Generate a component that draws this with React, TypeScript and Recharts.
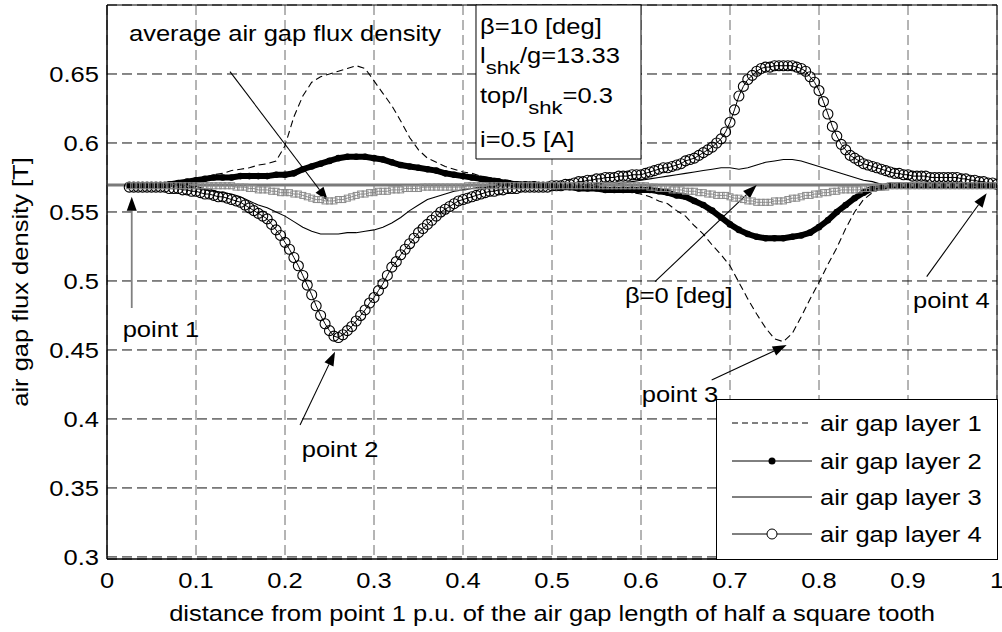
import {
  CartesianGrid,
  Label,
  Legend,
  Line,
  LineChart,
  ReferenceArea,
  ReferenceDot,
  ReferenceLine,
  XAxis,
  YAxis,
} from 'recharts';

const FONT = '"Liberation Sans", Arial, Helvetica, sans-serif';
const STRETCH = 1.16;

const xTicks = [0, 0.1, 0.2, 0.3, 0.4, 0.5, 0.6, 0.7, 0.8, 0.9, 1];
const xTickLabels = ['0', '0.1', '0.2', '0.3', '0.4', '0.5', '0.6', '0.7', '0.8', '0.9', '1'];
const yTicks = [0.3, 0.35, 0.4, 0.45, 0.5, 0.55, 0.6, 0.65];
const yTickLabels = ['0.3', '0.35', '0.4', '0.45', '0.5', '0.55', '0.6', '0.65'];

// layers 1-3, read every 0.01
const xCoarse = [
  0.025,
  0.03, 0.04, 0.05, 0.06, 0.07, 0.08, 0.09, 0.1, 0.11, 0.12,
  0.13, 0.14, 0.15, 0.16, 0.17, 0.18, 0.19, 0.2, 0.21, 0.22,
  0.23, 0.24, 0.25, 0.26, 0.27, 0.28, 0.29, 0.3, 0.31, 0.32,
  0.33, 0.34, 0.35, 0.36, 0.37, 0.38, 0.39, 0.4, 0.41, 0.42,
  0.43, 0.44, 0.45, 0.46, 0.47, 0.48, 0.49, 0.5, 0.51, 0.52,
  0.53, 0.54, 0.55, 0.56, 0.57, 0.58, 0.59, 0.6, 0.61, 0.62,
  0.63, 0.64, 0.65, 0.66, 0.67, 0.68, 0.69, 0.7, 0.71, 0.72,
  0.73, 0.74, 0.75, 0.76, 0.77, 0.78, 0.79, 0.8, 0.81, 0.82,
  0.83, 0.84, 0.85, 0.86, 0.87, 0.88, 0.89, 0.9, 0.91, 0.92,
  0.93, 0.94, 0.95, 0.96, 0.97, 0.98, 0.99, 1,
];

const layer1 = [
  0.569,
  0.569, 0.569, 0.569, 0.569, 0.57, 0.57, 0.571, 0.573, 0.575, 0.577,
  0.578, 0.58, 0.581, 0.582, 0.584, 0.585, 0.587, 0.598, 0.619, 0.634,
  0.644, 0.648, 0.65, 0.652, 0.654, 0.656, 0.654, 0.645, 0.636, 0.627,
  0.616, 0.604, 0.595, 0.589, 0.586, 0.583, 0.581, 0.579, 0.578, 0.576,
  0.575, 0.574, 0.573, 0.572, 0.571, 0.57, 0.57, 0.569, 0.569, 0.569,
  0.568, 0.568, 0.567, 0.567, 0.566, 0.565, 0.564, 0.563, 0.561, 0.558,
  0.556, 0.551, 0.547, 0.54, 0.534, 0.526, 0.519, 0.511, 0.499, 0.487,
  0.476, 0.466, 0.458, 0.456, 0.462, 0.474, 0.487, 0.499, 0.512, 0.524,
  0.538, 0.55, 0.559, 0.564, 0.567, 0.568, 0.569, 0.569, 0.569, 0.569,
  0.569, 0.569, 0.569, 0.569, 0.569, 0.569, 0.569, 0.569,
];

const layer2 = [
  0.569,
  0.569, 0.569, 0.569, 0.569, 0.57, 0.571, 0.572, 0.573, 0.574, 0.575,
  0.575, 0.575, 0.576, 0.576, 0.576, 0.576, 0.577, 0.577, 0.578, 0.581,
  0.583, 0.585, 0.587, 0.589, 0.59, 0.59, 0.59, 0.589, 0.588, 0.586,
  0.584, 0.583, 0.582, 0.581, 0.58, 0.578, 0.577, 0.576, 0.575, 0.574,
  0.573, 0.572, 0.571, 0.57, 0.57, 0.57, 0.569, 0.569, 0.568, 0.568,
  0.567, 0.567, 0.567, 0.566, 0.566, 0.566, 0.566, 0.566, 0.566, 0.565,
  0.564, 0.562, 0.561, 0.558, 0.555, 0.551, 0.546, 0.541, 0.537, 0.534,
  0.532, 0.531, 0.531, 0.531, 0.532, 0.533, 0.535, 0.539, 0.544, 0.55,
  0.555, 0.56, 0.564, 0.567, 0.568, 0.569, 0.569, 0.569, 0.569, 0.569,
  0.569, 0.569, 0.569, 0.569, 0.569, 0.569, 0.569, 0.569,
];

const layer3 = [
  0.569,
  0.569, 0.569, 0.569, 0.569, 0.569, 0.568, 0.568, 0.567, 0.566, 0.565,
  0.564, 0.563, 0.561, 0.558, 0.555, 0.553, 0.55, 0.547, 0.543, 0.539,
  0.536, 0.534, 0.534, 0.534, 0.535, 0.535, 0.536, 0.537, 0.539, 0.542,
  0.546, 0.551, 0.555, 0.559, 0.561, 0.563, 0.565, 0.566, 0.567, 0.568,
  0.568, 0.569, 0.569, 0.569, 0.569, 0.569, 0.569, 0.569, 0.569, 0.569,
  0.569, 0.569, 0.569, 0.57, 0.57, 0.571, 0.572, 0.573, 0.574, 0.575,
  0.576, 0.577, 0.578, 0.579, 0.58, 0.581, 0.582, 0.582, 0.581, 0.582,
  0.584, 0.586, 0.587, 0.588, 0.588, 0.587, 0.585, 0.583, 0.581, 0.579,
  0.577, 0.575, 0.573, 0.572, 0.57, 0.569, 0.569, 0.569, 0.569, 0.569,
  0.569, 0.569, 0.569, 0.569, 0.569, 0.569, 0.569, 0.569,
];

// layer 4 and the average (grey squares), read every 0.005
const xFine = [
  0.025, 0.03, 0.035, 0.04, 0.045, 0.05, 0.055, 0.06, 0.065, 0.07,
  0.075, 0.08, 0.085, 0.09, 0.095, 0.1, 0.105, 0.11, 0.115, 0.12,
  0.125, 0.13, 0.135, 0.14, 0.145, 0.15, 0.155, 0.16, 0.165, 0.17,
  0.175, 0.18, 0.185, 0.19, 0.195, 0.2, 0.205, 0.21, 0.215, 0.22,
  0.225, 0.23, 0.235, 0.24, 0.245, 0.25, 0.255, 0.26, 0.265, 0.27,
  0.275, 0.28, 0.285, 0.29, 0.295, 0.3, 0.305, 0.31, 0.315, 0.32,
  0.325, 0.33, 0.335, 0.34, 0.345, 0.35, 0.355, 0.36, 0.365, 0.37,
  0.375, 0.38, 0.385, 0.39, 0.395, 0.4, 0.405, 0.41, 0.415, 0.42,
  0.425, 0.43, 0.435, 0.44, 0.445, 0.45, 0.455, 0.46, 0.465, 0.47,
  0.475, 0.48, 0.485, 0.49, 0.495, 0.5, 0.505, 0.51, 0.515, 0.52,
  0.525, 0.53, 0.535, 0.54, 0.545, 0.55, 0.555, 0.56, 0.565, 0.57,
  0.575, 0.58, 0.585, 0.59, 0.595, 0.6, 0.605, 0.61, 0.615, 0.62,
  0.625, 0.63, 0.635, 0.64, 0.645, 0.65, 0.655, 0.66, 0.665, 0.67,
  0.675, 0.68, 0.685, 0.69, 0.695, 0.7, 0.705, 0.71, 0.715, 0.72,
  0.725, 0.73, 0.735, 0.74, 0.745, 0.75, 0.755, 0.76, 0.765, 0.77,
  0.775, 0.78, 0.785, 0.79, 0.795, 0.8, 0.805, 0.81, 0.815, 0.82,
  0.825, 0.83, 0.835, 0.84, 0.845, 0.85, 0.855, 0.86, 0.865, 0.87,
  0.875, 0.88, 0.885, 0.89, 0.895, 0.9, 0.905, 0.91, 0.915, 0.92,
  0.925, 0.93, 0.935, 0.94, 0.945, 0.95, 0.955, 0.96, 0.965, 0.97,
  0.975, 0.98, 0.985, 0.99, 0.995, 1,
];

const layer4 = [
  0.568, 0.568, 0.568, 0.568, 0.568, 0.568, 0.568, 0.568, 0.568, 0.567,
  0.567, 0.567, 0.566, 0.566, 0.565, 0.565, 0.564, 0.563, 0.563, 0.562,
  0.561, 0.561, 0.56, 0.559, 0.558, 0.557, 0.555, 0.553, 0.551, 0.549,
  0.547, 0.545, 0.541, 0.537, 0.533, 0.528, 0.523, 0.517, 0.511, 0.504,
  0.497, 0.49, 0.482, 0.475, 0.469, 0.464, 0.46, 0.459, 0.461, 0.464,
  0.467, 0.471, 0.475, 0.479, 0.484, 0.488, 0.493, 0.498, 0.504, 0.51,
  0.514, 0.519, 0.523, 0.527, 0.531, 0.535, 0.538, 0.541, 0.544, 0.547,
  0.55, 0.552, 0.554, 0.556, 0.558, 0.559, 0.56, 0.561, 0.562, 0.563,
  0.564, 0.565, 0.565, 0.566, 0.566, 0.567, 0.567, 0.567, 0.568, 0.568,
  0.568, 0.568, 0.568, 0.568, 0.568, 0.569, 0.569, 0.569, 0.57, 0.57,
  0.571, 0.572, 0.572, 0.573, 0.573, 0.574, 0.574, 0.575, 0.575, 0.575,
  0.576, 0.576, 0.576, 0.577, 0.577, 0.577, 0.578, 0.579, 0.58, 0.581,
  0.582, 0.582, 0.583, 0.584, 0.585, 0.587, 0.588, 0.589, 0.591, 0.593,
  0.595, 0.597, 0.6, 0.603, 0.608, 0.615, 0.624, 0.634, 0.641, 0.646,
  0.649, 0.652, 0.654, 0.655, 0.655, 0.656, 0.656, 0.656, 0.656, 0.656,
  0.655, 0.654, 0.652, 0.648, 0.644, 0.638, 0.63, 0.621, 0.612, 0.605,
  0.599, 0.595, 0.591, 0.589, 0.587, 0.585, 0.584, 0.583, 0.582, 0.581,
  0.58, 0.579, 0.578, 0.578, 0.577, 0.577, 0.576, 0.576, 0.576, 0.576,
  0.575, 0.575, 0.575, 0.575, 0.575, 0.575, 0.575, 0.574, 0.574, 0.573,
  0.573, 0.572, 0.572, 0.571, 0.571, 0.57,
];

const average = [
  0.569, 0.569, 0.569, 0.569, 0.569, 0.569, 0.569, 0.569, 0.569, 0.569,
  0.569, 0.569, 0.569, 0.569, 0.569, 0.569, 0.569, 0.569, 0.569, 0.569,
  0.569, 0.569, 0.569, 0.569, 0.568, 0.568, 0.568, 0.567, 0.567, 0.566,
  0.566, 0.566, 0.565, 0.565, 0.564, 0.564, 0.564, 0.563, 0.563, 0.562,
  0.561, 0.56, 0.559, 0.559, 0.558, 0.558, 0.558, 0.559, 0.559, 0.56,
  0.561, 0.562, 0.563, 0.563, 0.564, 0.564, 0.565, 0.565, 0.565, 0.566,
  0.566, 0.566, 0.567, 0.567, 0.567, 0.567, 0.568, 0.568, 0.568, 0.568,
  0.568, 0.568, 0.568, 0.568, 0.568, 0.568, 0.569, 0.569, 0.569, 0.569,
  0.569, 0.569, 0.569, 0.569, 0.569, 0.569, 0.569, 0.569, 0.569, 0.569,
  0.569, 0.569, 0.569, 0.569, 0.569, 0.569, 0.569, 0.569, 0.569, 0.569,
  0.569, 0.569, 0.569, 0.569, 0.569, 0.569, 0.569, 0.569, 0.569, 0.569,
  0.569, 0.569, 0.569, 0.569, 0.569, 0.569, 0.569, 0.568, 0.568, 0.567,
  0.567, 0.567, 0.566, 0.566, 0.566, 0.565, 0.565, 0.565, 0.564, 0.564,
  0.563, 0.563, 0.562, 0.562, 0.562, 0.561, 0.56, 0.56, 0.559, 0.558,
  0.558, 0.557, 0.557, 0.557, 0.557, 0.558, 0.558, 0.558, 0.559, 0.56,
  0.56, 0.561, 0.562, 0.562, 0.563, 0.563, 0.564, 0.564, 0.565, 0.565,
  0.566, 0.566, 0.566, 0.566, 0.566, 0.567, 0.567, 0.567, 0.568, 0.568,
  0.568, 0.569, 0.569, 0.569, 0.569, 0.569, 0.569, 0.569, 0.569, 0.569,
  0.569, 0.569, 0.569, 0.569, 0.569, 0.569, 0.569, 0.569, 0.569, 0.569,
  0.569, 0.569, 0.569, 0.569, 0.569, 0.569,
];

// beta = 0 reference (thick grey line)
const beta0X = [0, 1];
const beta0 = [0.5695, 0.5695];

const legendNames = ['air gap layer 1', 'air gap layer 2', 'air gap layer 3', 'air gap layer 4'];

const notes = [
  { text: 'average air gap flux density', x: 0.0247, y: 0.6741 },
  { text: 'point 1', x: 0.0176, y: 0.4596 },
  { text: 'point 2', x: 0.2188, y: 0.3726 },
  { text: 'point 3', x: 0.6008, y: 0.4125 },
  { text: 'point 4', x: 0.9056, y: 0.4802 },
  { text: 'β=0 [deg]', x: 0.582, y: 0.484 },
];

const arrows = [
  { x1: 0.1382, y1: 0.6517, x2: 0.2483, y2: 0.558, shaft: '#000' },
  { x1: 0.0278, y1: 0.4804, x2: 0.0278, y2: 0.5611, shaft: '#808080' },
  { x1: 0.2169, y1: 0.3956, x2: 0.2562, y2: 0.4487, shaft: '#000' },
  { x1: 0.6794, y1: 0.4282, x2: 0.7637, y2: 0.4536, shaft: '#000' },
  { x1: 0.921, y1: 0.5031, x2: 0.9884, y2: 0.5635, shaft: '#000' },
  { x1: 0.6157, y1: 0.4995, x2: 0.73, y2: 0.5695, shaft: '#000' },
];

// text box, each line: [text, isSubscript]
const boxX = 0.4191;
const boxLines: { y: number; parts: [string, boolean][] }[] = [
  { y: 0.6788, parts: [['β=10 [deg]', false]] },
  { y: 0.6577, parts: [['l', false], ['shk', true], ['/g=13.33', false]] },
  { y: 0.6288, parts: [['top/l', false], ['shk', true], ['=0.3', false]] },
  { y: 0.5973, parts: [['i=0.5 [A]', false]] },
];

const toRows = (xs: number[], ys: number[]) =>
  xs.map((x, i) => ({ x, y: ys[i] })).filter((r) => r.y !== undefined);

const rows1 = toRows(xCoarse, layer1);
const rows2 = toRows(xCoarse, layer2);
const rows3 = toRows(xCoarse, layer3);
const rows4 = toRows(xFine, layer4);
const rowsAvg = toRows(xFine, average);
const rowsBeta0 = toRows(beta0X, beta0);

function SText({ x, y, anchor = 'start', rotate, size = 22, fill = '#000', children }: any) {
  const t = `translate(${x},${y})${rotate ? ` rotate(${rotate})` : ''} scale(${STRETCH},1)`;
  return (
    <text transform={t} textAnchor={anchor} fontFamily={FONT} fontSize={size} fill={fill}>
      {children}
    </text>
  );
}

const XTick = (p: any) => (
  <SText x={p.x} y={p.y + 29} anchor="middle">
    {xTickLabels[xTicks.indexOf(p.payload.value)]}
  </SText>
);

const YTick = (p: any) => (
  <SText x={p.x - 8} y={p.y + 8} anchor="end">
    {yTickLabels[yTicks.indexOf(p.payload.value)]}
  </SText>
);

const XTitle = (p: any) => (
  <SText x={p.viewBox.x + p.viewBox.width / 2} y={p.viewBox.y + 62} anchor="middle">
    distance from point 1 p.u. of the air gap length of half a square tooth
  </SText>
);

const YTitle = (p: any) => (
  <SText x={p.viewBox.x + 28} y={p.viewBox.y + p.viewBox.height / 2} anchor="middle" rotate={-90}>
    air gap flux density [T]
  </SText>
);

function Arrow({ x1, y1, x2, y2, shaft }: any) {
  const dx = x2 - x1;
  const dy = y2 - y1;
  const len = Math.hypot(dx, dy) || 1;
  const ux = dx / len;
  const uy = dy / len;
  const bx = x2 - ux * 14;
  const by = y2 - uy * 14;
  const px = -uy * 5;
  const py = ux * 5;
  return (
    <g>
      <line x1={x1} y1={y1} x2={bx} y2={by} stroke={shaft} strokeWidth={shaft === '#000' ? 1.1 : 1.8} />
      <polygon points={`${x2},${y2} ${bx + px},${by + py} ${bx - px},${by - py}`} fill="#000" />
    </g>
  );
}

const squareDot = (p: any) => (
  <rect
    key={`sq-${p.index}`}
    x={p.cx - 3}
    y={p.cy - 3}
    width={6}
    height={6}
    fill="none"
    stroke="#8a8a8a"
    strokeWidth={1}
  />
);

function LegendBox() {
  const rowY = [24, 62, 98, 135];
  return (
    <svg width={282} height={161} style={{ display: 'block' }}>
      <rect x={0.5} y={0.5} width={281} height={160} fill="#fff" stroke="#000" />
      {legendNames.map((name, i) => {
        const cy = rowY[i];
        return (
          <g key={name}>
            <line x1={16} x2={96} y1={cy} y2={cy} stroke="#000" strokeDasharray={i === 0 ? '6 4' : undefined} />
            {i === 1 && <circle cx={56} cy={cy} r={3.5} fill="#000" />}
            {i === 3 && <circle cx={56} cy={cy} r={5} fill="#fff" stroke="#000" />}
            <SText x={104} y={cy + 8}>{name}</SText>
          </g>
        );
      })}
    </svg>
  );
}

export default function App() {
  return (
    <div style={{ position: 'absolute', left: 0, top: 0, background: '#fff' }}>
      <LineChart width={1002} height={632} margin={{ top: 5, right: 5, bottom: 0, left: 0 }}>
        <CartesianGrid horizontal={false} stroke="#6a6a6a" strokeDasharray="10 5" />
        <CartesianGrid vertical={false} stroke="#111" strokeDasharray="10 5" />
        <XAxis
          type="number"
          dataKey="x"
          domain={[0, 1]}
          ticks={xTicks}
          tick={XTick}
          tickSize={0}
          tickMargin={0}
          tickLine={false}
          axisLine={{ stroke: '#000' }}
          height={73}
          allowDataOverflow
        >
          <Label content={XTitle} />
        </XAxis>
        <YAxis
          type="number"
          domain={[0.2985, 0.7]}
          ticks={yTicks}
          tick={YTick}
          tickSize={0}
          tickMargin={0}
          tickLine={false}
          axisLine={{ stroke: '#000' }}
          width={107}
          allowDataOverflow
        >
          <Label content={YTitle} />
        </YAxis>

        <Line
          data={rows1}
          dataKey="y"
          name="air gap layer 1"
          stroke="#000"
          strokeWidth={1.1}
          strokeDasharray="7 4"
          dot={false}
          isAnimationActive={false}
        />
        <Line
          data={rows3}
          dataKey="y"
          name="air gap layer 3"
          stroke="#000"
          strokeWidth={1.1}
          dot={false}
          isAnimationActive={false}
        />
        <Line
          data={rows2}
          dataKey="y"
          name="air gap layer 2"
          stroke="#000"
          strokeWidth={6}
          dot={{ r: 3.3, fill: '#000', stroke: '#000', strokeWidth: 0 }}
          isAnimationActive={false}
        />
        <Line
          data={rows4}
          dataKey="y"
          name="air gap layer 4"
          stroke="#000"
          strokeWidth={1}
          dot={{ r: 5, fill: 'none', stroke: '#000', strokeWidth: 1.1 }}
          isAnimationActive={false}
        />
        <Line
          data={rowsAvg}
          dataKey="y"
          name="average"
          legendType="none"
          stroke="#8c8c8c"
          strokeWidth={1}
          dot={squareDot}
          isAnimationActive={false}
        />
        <Line
          data={rowsBeta0}
          dataKey="y"
          name="beta 0"
          legendType="none"
          stroke="#7a7a7a"
          strokeWidth={3}
          dot={false}
          isAnimationActive={false}
        />

        <ReferenceArea x1={0} x2={1} y1={0.2985} y2={0.7} fill="none" stroke="#000" ifOverflow="visible" />
        <ReferenceArea
          x1={0.4146}
          x2={0.6}
          y1={0.5884}
          y2={0.7}
          fill="#fff"
          fillOpacity={1}
          stroke="#000"
          ifOverflow="visible"
        />

        {arrows.map((a, i) => (
          <ReferenceLine
            key={`arrow-${i}`}
            segment={[
              { x: a.x1, y: a.y1 },
              { x: a.x2, y: a.y2 },
            ]}
            ifOverflow="visible"
            shape={(p: any) => <Arrow x1={p.x1} y1={p.y1} x2={p.x2} y2={p.y2} shaft={a.shaft} />}
          />
        ))}

        {notes.map((n) => (
          <ReferenceDot
            key={n.text}
            x={n.x}
            y={n.y}
            r={0}
            ifOverflow="visible"
            shape={(p: any) => <SText x={p.cx} y={p.cy}>{n.text}</SText>}
          />
        ))}

        {boxLines.map((ln, i) => (
          <ReferenceDot
            key={`box-${i}`}
            x={boxX}
            y={ln.y}
            r={0}
            ifOverflow="visible"
            shape={(p: any) => (
              <SText x={p.cx} y={p.cy}>
                {ln.parts.map(([s, sub], j) => {
                  const prevSub = j > 0 && ln.parts[j - 1][1];
                  const dy = sub ? 11 : prevSub ? -11 : 0;
                  return (
                    <tspan key={j} dy={dy} fontSize={sub ? 19 : 22}>
                      {s}
                    </tspan>
                  );
                })}
              </SText>
            )}
          />
        ))}

        <Legend
          layout="vertical"
          align="center"
          verticalAlign="middle"
          wrapperStyle={{ left: 716, top: 399, width: 282, height: 161 }}
          content={() => <LegendBox />}
        />
      </LineChart>
    </div>
  );
}
